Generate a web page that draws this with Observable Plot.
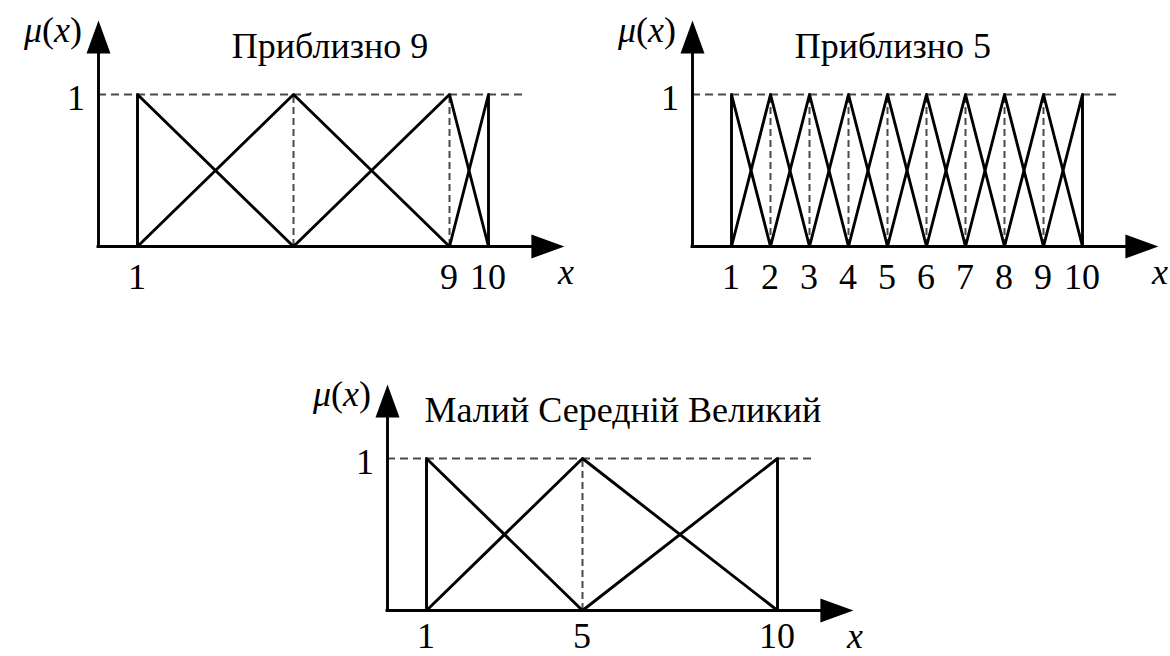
<!DOCTYPE html>
<html>
<head>
<meta charset="utf-8">
<script src="https://cdn.jsdelivr.net/npm/d3@7"></script>
<script src="https://cdn.jsdelivr.net/npm/@observablehq/plot@0.6"></script>
<style>
  html, body { margin: 0; padding: 0; background: #fff; }
  #chart { position: relative; width: 1170px; height: 656px; overflow: hidden; }
  #chart > .panel { position: absolute; }
  .lbl {
    position: absolute;
    font-family: 'Liberation Serif', Tinos, 'Times New Roman', 'DejaVu Serif', 'Noto Serif', serif;
    font-size: 36px;
    line-height: 36px;
    white-space: nowrap;
    color: #000;
  }
  .lbl.mid { transform: translateX(-50%); }
  .lbl.end { transform: translateX(-100%); }
  .lbl i { font-style: italic; }
</style>
</head>
<body>
<div id="chart"></div>
<script>
// Centres of the triangular membership functions in each panel
const peaksApprox9 = [1, 5, 9, 10];
const peaksApprox5 = [1, 2, 3, 4, 5, 6, 7, 8, 9, 10];
const peaksTerms = [1, 5, 10];

// Labelled ticks on the x axis of each panel
const ticksApprox9 = [1, 9, 10];
const ticksApprox5 = [1, 2, 3, 4, 5, 6, 7, 8, 9, 10];
const ticksTerms = [1, 5, 10];

// Panel titles
const titleApprox9 = "Приблизно 9";
const titleApprox5 = "Приблизно 5";
const titleTerms = "Малий Середній Великий";

const UNIT_X = 39;    // px per unit of x
const UNIT_Y = 152;   // px for a membership of 1
const BASELINE_SHIFT = 18.6;  // from the vertical middle of a label to the top of its 36px line box

// Filled arrow head, anchored at the middle of its base, pointing up
const arrowHead = {
  draw(ctx, size) {
    const r = Math.sqrt(size / Math.PI);
    ctx.moveTo(0, -2.75 * r);
    ctx.lineTo(r, 0);
    ctx.lineTo(-r, 0);
    ctx.closePath();
  }
};

// Each membership function is a triangle: foot at the previous centre,
// apex at its own centre, foot at the next centre (edges become verticals)
function triangles(peaks) {
  return peaks.flatMap((p, i) => {
    const l = i > 0 ? peaks[i - 1] : p;
    const r = i < peaks.length - 1 ? peaks[i + 1] : p;
    return [
      {set: i, x: l, y: 0},
      {set: i, x: p, y: 1},
      {set: i, x: r, y: 0}
    ];
  });
}

// A serif label placed through the panel's own scales
function label(wrap, html, x, y, anchor) {
  const el = document.createElement("div");
  el.className = "lbl " + anchor;
  el.innerHTML = html;
  el.style.left = x + "px";
  el.style.top = (y - BASELINE_SHIFT) + "px";
  wrap.appendChild(el);
}

function panel({peaks, ticks, title, left, top, width, height, ox, baseY, titleX, titleY, tickDy}) {
  const ink = {stroke: "black", strokeWidth: 2.9};
  const dash = {stroke: "#4a4a4a", strokeWidth: 2};
  const svg = Plot.plot({
    width, height,
    margin: 0,
    style: {background: "transparent", overflow: "visible"},
    x: {domain: [0, 12], range: [ox, ox + 12 * UNIT_X], axis: null},
    y: {domain: [0, 1.5], range: [baseY, baseY - 1.5 * UNIT_Y], axis: null},
    marks: [
      Plot.ruleY([1], {x1: 0, x2: 11, ...dash, strokeDasharray: "8,5"}),
      Plot.ruleX(peaks.slice(1, -1), {y1: 0, y2: 1, ...dash, strokeDasharray: "7,4"}),
      Plot.line(triangles(peaks), {x: "x", y: "y", z: "set", ...ink}),
      Plot.ruleY([0], {x1: 0, x2: 11.15, ...ink, strokeLinecap: "square"}),
      Plot.ruleX([0], {y1: 0, y2: 1.28, ...ink, strokeLinecap: "square"}),
      Plot.dot([{x: 0, y: 1.27, a: 0}, {x: 11.1, y: 0, a: 90}],
        {x: "x", y: "y", rotate: "a", r: 12, symbol: arrowHead, fill: "black"})
    ]
  });
  const wrap = document.createElement("div");
  wrap.className = "panel";
  wrap.style.left = left + "px";
  wrap.style.top = top + "px";
  wrap.style.width = width + "px";
  wrap.style.height = height + "px";
  wrap.appendChild(svg);

  const sx = v => svg.scale("x").apply(v);
  const sy = v => svg.scale("y").apply(v);
  ticks.forEach(t => label(wrap, String(t), sx(t), sy(0) + tickDy, "mid"));
  label(wrap, "1", sx(0) - 13, sy(1) + 5, "end");
  label(wrap, "<i>x</i>", sx(12), sy(0) + 27, "mid");
  label(wrap, "<i>μ</i>(<i>x</i>)", sx(0) - 16, sy(1.42), "end");
  label(wrap, title, sx(titleX), sy(titleY), "mid");

  document.getElementById("chart").appendChild(wrap);
}

panel({peaks: peaksApprox9, ticks: ticksApprox9, title: titleApprox9,
  left: 0, top: 0, width: 585, height: 320, ox: 98, baseY: 246, titleX: 5.95, titleY: 1.31, tickDy: 32});
panel({peaks: peaksApprox5, ticks: ticksApprox5, title: titleApprox5,
  left: 585, top: 0, width: 585, height: 320, ox: 107, baseY: 246, titleX: 5.15, titleY: 1.31, tickDy: 32});
panel({peaks: peaksTerms, ticks: ticksTerms, title: titleTerms,
  left: 290, top: 355, width: 590, height: 301, ox: 97, baseY: 255, titleX: 6.05, titleY: 1.31, tickDy: 27});
</script>
</body>
</html>
